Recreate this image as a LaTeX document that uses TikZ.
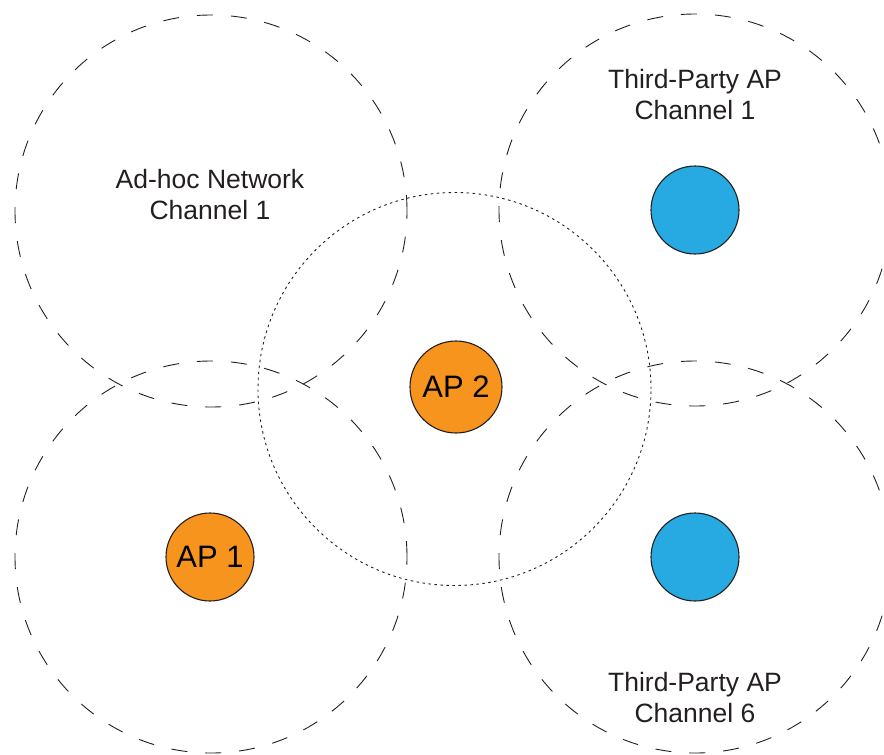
\documentclass[tikz,border=0pt]{standalone}
\usepackage{fontspec}
\setmainfont{Liberation Sans}
\definecolor{apOrange}{HTML}{F7941D}
\definecolor{apBlue}{HTML}{27AAE1}
\definecolor{rim}{HTML}{231F20}
\tikzset{
	cell/.style={circle,draw=rim,line width=0.9pt,dash pattern=on 16pt off 18pt,minimum size=392pt,inner sep=0pt},
	cellAP/.style={circle,draw=rim,line width=0.9pt,dash pattern=on 2.5pt off 3.5pt,minimum size=393pt,inner sep=0pt},
	apdot/.style={circle,draw=rim,line width=1.1pt,minimum size=#1,inner sep=0pt,font=\fontsize{31}{31}\selectfont},
	lbl/.style={align=center,inner sep=0pt,font=\fontsize{26.5}{31}\selectfont,text=rim}
}
\begin{document}
\begin{tikzpicture}[x=1pt,y=-1pt]
	\useasboundingbox (0,0) rectangle (884,755);
	\clip (0,0) rectangle (884,755);
	% coverage areas
	\node[cell] (adhoc) at (211,211) {};
	\node[cell] (tpone) at (695,210) {};
	\node[cell] (apone) at (211,557) {};
	\node[cell] (tpsix) at (695,557) {};
	\node[cellAP] (aptwo) at (454.5,389) {};
	% access points
	\node[apdot=88pt,fill=apOrange] (ap1) at (210,557) {AP 1};
	\node[apdot=92pt,fill=apOrange] (ap2) at (456,387) {AP 2};
	\node[apdot=88pt,fill=apBlue] (tp1) at (695,210) {};
	\node[apdot=88pt,fill=apBlue] (tp6) at (695,557) {};
	% labels
	\node[lbl] (adhocLbl) at (210,195) {Ad-hoc Network\\Channel 1};
	\node[lbl] (tpLblA) at (695,95) {Third-Party AP\\Channel 1};
	\node[lbl] (tpLblB) at (695,698) {Third-Party AP\\Channel 6};
\end{tikzpicture}
\end{document}
